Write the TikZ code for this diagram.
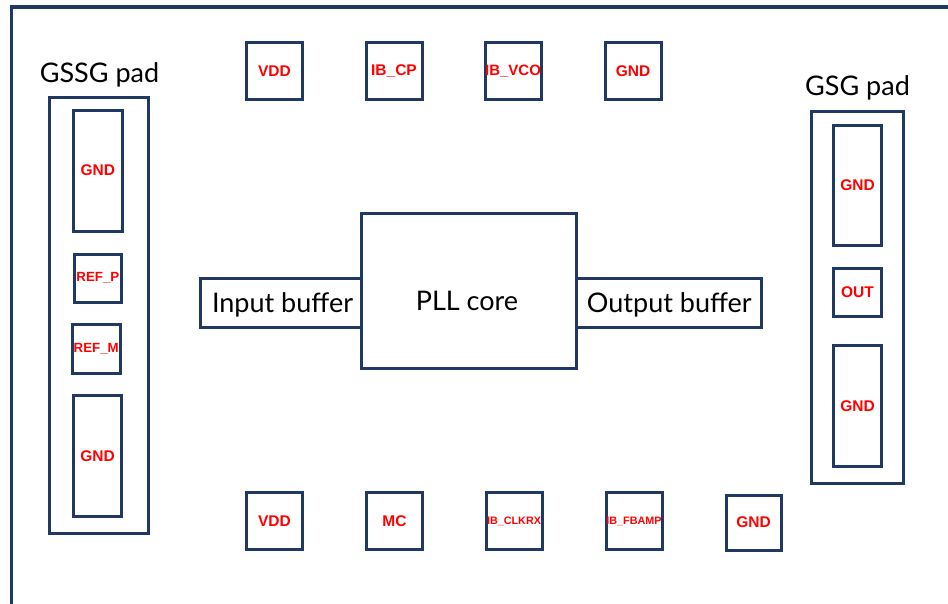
\documentclass[tikz,border=0pt]{standalone}
\usepackage{fontspec}
\setmainfont{Lato}
\newfontfamily\labfont{Liberation Sans}
\definecolor{navy}{RGB}{31,56,100}
\definecolor{labred}{RGB}{255,0,0}
\begin{document}
\begin{tikzpicture}[x=1pt,y=-1pt,
  box/.style={draw=navy, line width=3pt, inner sep=0pt, outer sep=0pt, fill=white},
  pad/.style={box},
  padtext/.style={text=labred, inner sep=0pt, font=\labfont\bfseries\fontsize{15.5}{16}\selectfont},
  smalltext/.style={text=labred, inner sep=0pt, font=\labfont\bfseries\fontsize{10.8}{11}\selectfont},
  reftext/.style={text=labred, inner sep=0pt, font=\labfont\bfseries\fontsize{13.3}{14}\selectfont},
  bigtext/.style={inner sep=0pt, font=\fontsize{27}{31}\selectfont, text=black},
  padname/.style={inner sep=0pt, anchor=base, font=\fontsize{27}{31}\selectfont, text=black}
]
\path[use as bounding box] (0,0) rectangle (948,603);
\clip (0,0) rectangle (948,603);
\fill[white] (0,0) rectangle (948,603);
% outer frame
\draw[navy, line width=3.5pt] (11.3,7) rectangle (980,640);

% pad group names
\node[padname] (gssgname) at (99.5,82.3) {GSSG pad};
\node[padname] (gsgname) at (857.5,95.7) {GSG pad};

% GSSG pad
\node[box, minimum width=99.8pt, minimum height=436.7pt] (gssg) at (98.9,315.35) {};
\node[pad, minimum width=48.3pt, minimum height=121pt, label={[padtext]center:GND}] (lgnd1) at (97.85,170.5) {};
\node[pad, minimum width=47.7pt, minimum height=48.3pt, label={[reftext]center:REF\_P}] (refp) at (97.85,278.2) {};
\node[pad, minimum width=47.7pt, minimum height=48.5pt, label={[reftext]center:REF\_M}] (refm) at (96.2,349.2) {};
\node[pad, minimum width=48.4pt, minimum height=121pt, label={[padtext]center:GND}] (lgnd2) at (97.5,456.2) {};

% GSG pad
\node[box, minimum width=92pt, minimum height=372.5pt] (gsg) at (857.5,297.25) {};
\node[pad, minimum width=48pt, minimum height=120.5pt, label={[padtext]center:GND}] (rgnd1) at (857.5,185.25) {};
\node[pad, minimum width=48pt, minimum height=48pt, label={[padtext]center:OUT}] (out) at (857.5,292.5) {};
\node[pad, minimum width=48pt, minimum height=121.5pt, label={[padtext]center:GND}] (rgnd2) at (857.5,405.75) {};

% top pads
\node[pad, minimum width=56pt, minimum height=57pt, label={[padtext]center:VDD}] (tvdd) at (274.5,71) {};
\node[pad, minimum width=56pt, minimum height=57pt, label={[padtext]center:IB\_CP}] (tibcp) at (394,71) {};
\node[pad, minimum width=56pt, minimum height=57pt, label={[padtext,font=\labfont\bfseries\fontsize{15}{16}\selectfont]center:IB\_VCO}] (tibvco) at (513,71) {};
\node[pad, minimum width=56pt, minimum height=57pt, label={[padtext]center:GND}] (tgnd) at (633,71) {};

% bottom pads
\node[pad, minimum width=56pt, minimum height=57pt, label={[padtext]center:VDD}] (bvdd) at (274.5,521) {};
\node[pad, minimum width=56pt, minimum height=57pt, label={[padtext]center:MC}] (bmc) at (394.5,521) {};
\node[pad, minimum width=56pt, minimum height=57pt, label={[smalltext]center:IB\_CLKRX}] (bclkrx) at (514,521) {};
\node[pad, minimum width=56pt, minimum height=57pt, label={[smalltext]center:IB\_FBAMP}] (bfbamp) at (634,521) {};
\node[pad, minimum width=55pt, minimum height=55pt, label={[padtext]center:GND}] (bgnd) at (753.5,522.5) {};

% core blocks
\node[box, minimum width=161.5pt, minimum height=49pt] (inbuf) at (280.75,303) {};
\node[box, minimum width=184.5pt, minimum height=49pt] (outbuf) at (668.75,303) {};
\node[box, minimum width=215pt, minimum height=155pt] (pll) at (469,291) {};
\node[bigtext, anchor=base] (inbuftext) at (282.5,312.3) {Input buffer};
\node[bigtext, anchor=base] (plltext) at (467,310.5) {PLL core};
\node[bigtext, anchor=base] (outbuftext) at (669.3,312.7) {Output buffer};
\end{tikzpicture}
\end{document}
